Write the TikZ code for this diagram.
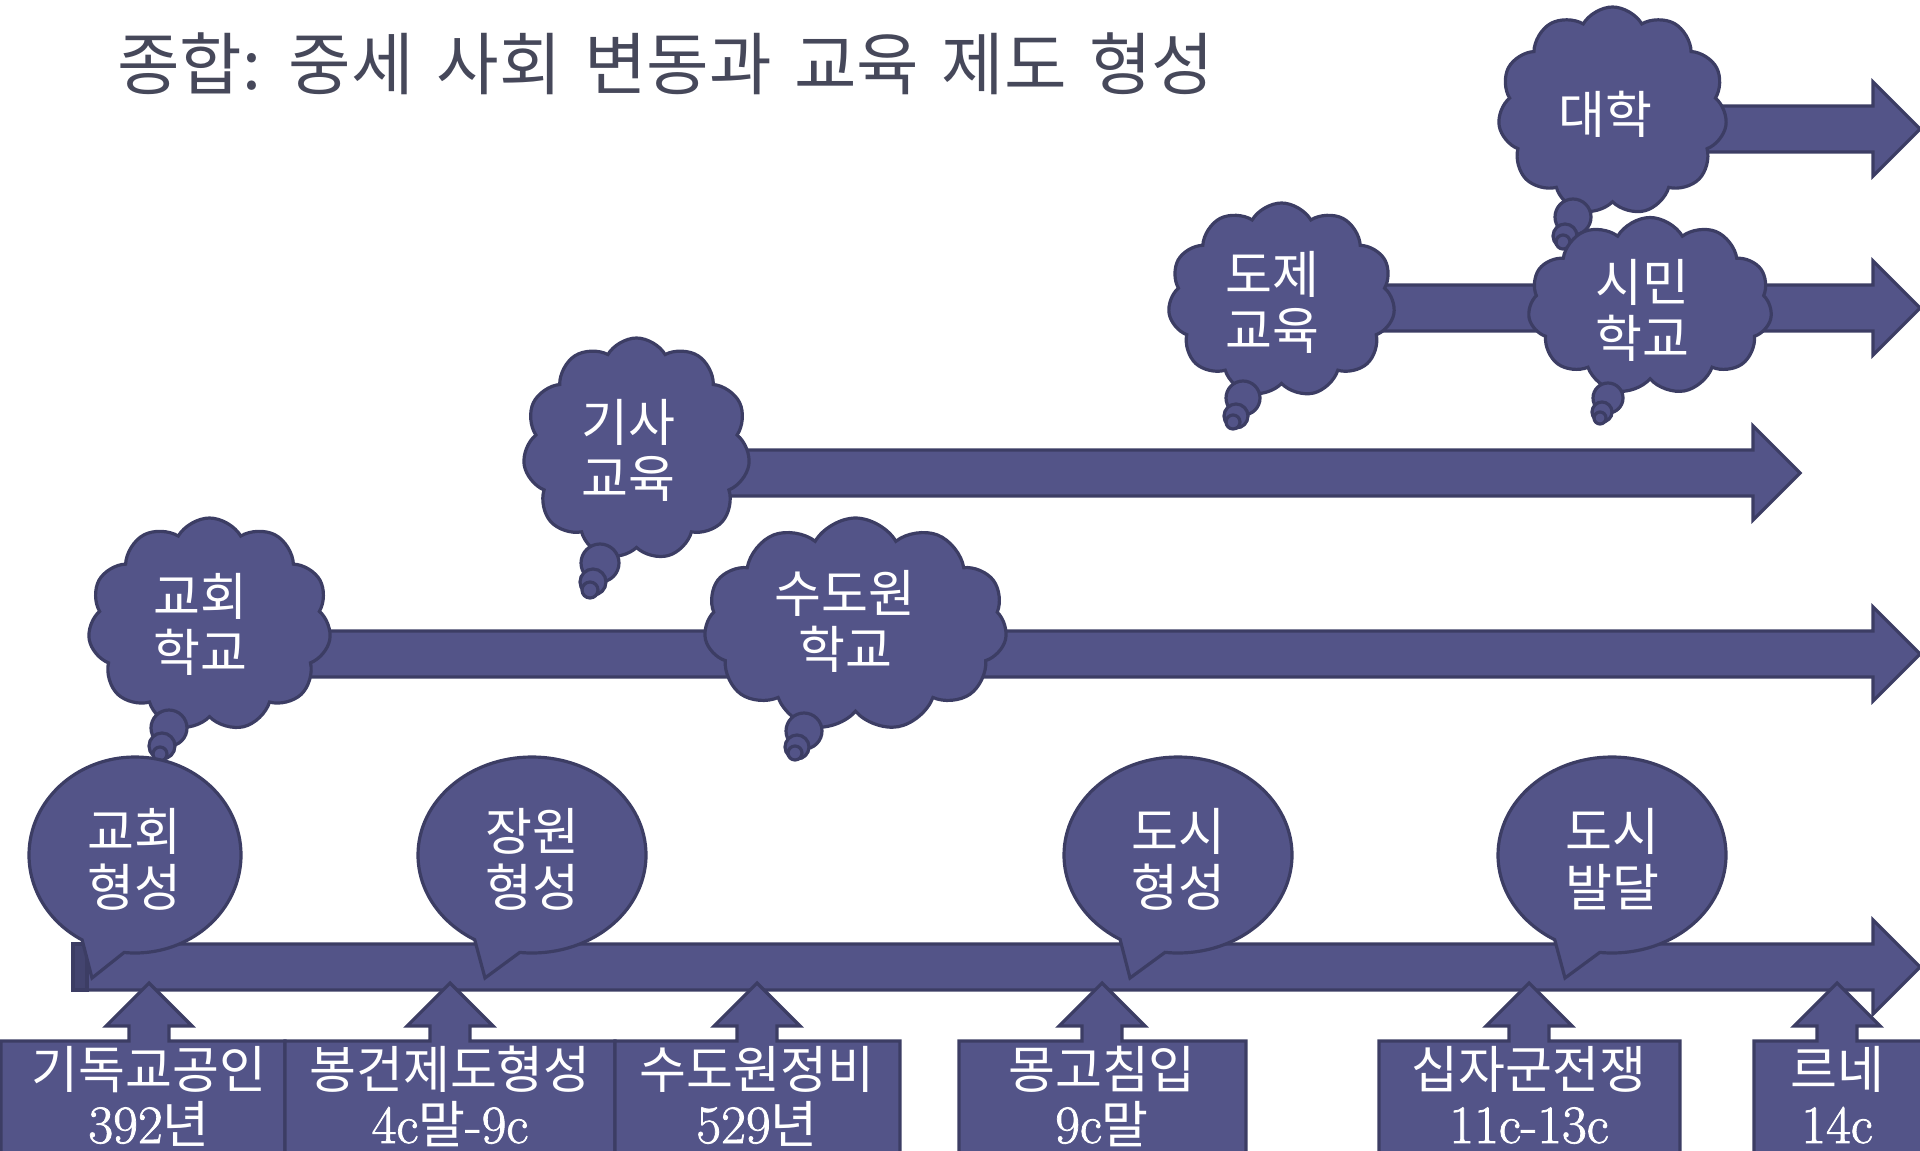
\documentclass[tikz,border=0pt]{standalone}
\usepackage{fontspec}
\newfontfamily\kr{Noto Sans CJK KR}
\newfontfamily\numf[FakeBold=1.4]{Latin Modern Roman}
\usetikzlibrary{shapes.callouts,shapes.symbols}
\definecolor{fillc}{RGB}{83,84,136}
\definecolor{linec}{RGB}{60,61,100}
\definecolor{titlec}{RGB}{70,72,90}
\newcommand\barrow[4]{\draw[shp] (#1,#4-23) -- (#2,#4-23) -- (#2,#4-47) -- (#3,#4) -- (#2,#4+47) -- (#2,#4+23) -- (#1,#4+23) -- cycle;}
\newcommand\upbox[3]{\draw[shp] (#1,1170) -- (#1,1041) -- (#3-20,1041) -- (#3-20,1026) -- (#3-43,1026) -- (#3,983) -- (#3+43,1026) -- (#3+20,1026) -- (#3+20,1041) -- (#2,1041) -- (#2,1170) -- cycle;}
\newcommand\puffs[9]{\draw[shp] (#1,#2) circle[radius=#3];\draw[shp] (#4,#5) circle[radius=#6];\draw[shp] (#7,#8) circle[radius=#9];}
\newcommand\nm[1]{{\numf\fontsize{27}{30}\selectfont #1}}
\begin{document}
\begin{tikzpicture}[x=0.5pt,y=-0.5pt,
  shp/.style={fill=fillc,draw=linec,line width=1.6pt,line join=miter},
  bub/.style={shp,ellipse callout,inner sep=0pt,callout pointer arc=24},
  cld/.style={shp,cloud,cloud puffs=11,cloud puff arc=120,cloud ignores aspect,inner sep=0pt},
  wt/.style={text=white,font=\kr\fontsize{25.5}{28}\selectfont,align=center,inner sep=0pt},
  bx/.style={text=white,inner sep=0pt,anchor=base,font=\kr\fontsize{25.5}{28}\selectfont},
]
\useasboundingbox (0,0) rectangle (1920,1150);
\clip (0,0) rectangle (1920,1150);

% title
\node[anchor=west,inner sep=0pt,text=titlec,font=\kr\fontsize{34}{40}\selectfont] (title) at (117,64) {\spaceskip=0.33em\relax 종합: 중세 사회 변동과 교육 제도 형성};

% horizontal block arrows
\barrow{1650}{1873}{1920}{129}
\barrow{1300}{1873}{1920}{308}
\barrow{700}{1753}{1800}{473}
\barrow{260}{1873}{1920}{654}

% clouds
\node[cld,minimum width=114.5pt,minimum height=104pt] (c6) at (1612.5,111) {};
\puffs{1573}{217}{18}{1565}{236}{12}{1563}{242}{7}
\node[cld,minimum width=122pt,minimum height=88.5pt] (c5) at (1650,306) {};
\puffs{1608}{398}{15}{1602}{412}{10}{1600}{418}{6}
\node[cld,minimum width=113.5pt,minimum height=97pt] (c4) at (1281.5,300) {};
\puffs{1243}{398}{17}{1236}{416}{12}{1233}{422}{7}
\node[cld,minimum width=113.5pt,minimum height=111pt] (c3) at (636.5,449) {};
\puffs{600}{563}{19}{593}{582}{13}{590}{590}{8}
\node[cld,minimum width=151.5pt,minimum height=106.5pt] (c2) at (855.5,624.5) {};
\puffs{804}{731}{18}{797}{747}{12}{795}{753}{7}
\node[cld,minimum width=121.5pt,minimum height=106.5pt] (c1) at (209.5,624.5) {};
\puffs{169}{728}{18}{162}{746}{13}{160}{754}{7}

% timeline
\barrow{73}{1873}{1920}{967}
\draw[shp,fill=linec!70!fillc] (73,944) rectangle (87,990);

% speech bubbles
\coordinate (q1) at (92,978);
\coordinate (q2) at (485,978);
\coordinate (q3) at (1130,978);
\coordinate (q4) at (1565,978);
\node[bub,minimum width=106pt,minimum height=98pt,callout absolute pointer={(q1)}] (e1) at (135,855) {};
\node[bub,minimum width=114pt,minimum height=98pt,callout absolute pointer={(q2)}] (e2) at (532,855) {};
\node[bub,minimum width=114pt,minimum height=98pt,callout absolute pointer={(q3)}] (e3) at (1178,855) {};
\node[bub,minimum width=114pt,minimum height=98pt,callout absolute pointer={(q4)}] (e4) at (1612,855) {};

% bottom boxes with up arrows
\upbox{1}{285}{149}
\upbox{285}{615}{450}
\upbox{615}{900}{757}
\upbox{959}{1246}{1102}
\upbox{1379}{1680}{1529}
\upbox{1754}{1925}{1837}

% texts in clouds
\node[wt] (c1t) at (200,624) {교회\\학교};
\node[wt] (c2t) at (845,621) {수도원\\학교};
\node[wt] (c3t) at (628,450) {기사\\교육};
\node[wt] (c4t) at (1272,302) {도제\\교육};
\node[wt] (c5t) at (1642,310) {시민\\학교};
\node[wt] (c6t) at (1605,114) {대학};

% texts in bubbles
\node[wt] (e1t) at (134,859) {교회\\형성};
\node[wt] (e2t) at (532,859) {장원\\형성};
\node[wt] (e3t) at (1178,859) {도시\\형성};
\node[wt] (e4t) at (1612,859) {도시\\발달};

% texts in boxes
\node[bx] (b1a) at (149,1088) {기독교공인};
\node[bx] (b1b) at (149,1143) {\nm{392}년};
\node[bx] (b2a) at (450,1088) {봉건제도형성};
\node[bx] (b2b) at (450,1143) {\nm{4c}말\nm{-9c}};
\node[bx] (b3a) at (757,1088) {수도원정비};
\node[bx] (b3b) at (757,1143) {\nm{529}년};
\node[bx] (b4a) at (1102,1088) {몽고침입};
\node[bx] (b4b) at (1102,1143) {\nm{9c}말};
\node[bx] (b5a) at (1529,1088) {십자군전쟁};
\node[bx] (b5b) at (1529,1143) {\nm{11c-13c}};
\node[bx] (b6a) at (1837,1088) {르네};
\node[bx] (b6b) at (1837,1143) {\nm{14c}};
\end{tikzpicture}
\end{document}
